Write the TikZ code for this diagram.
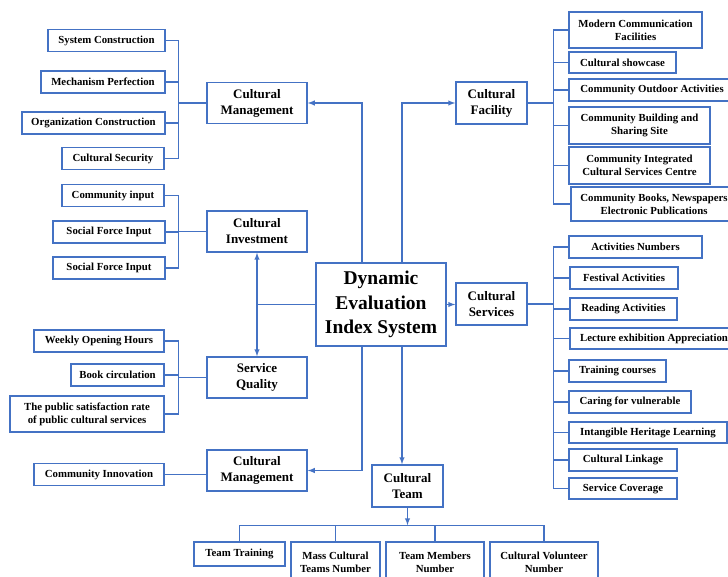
\documentclass[tikz,border=0pt]{standalone}
\usepackage{fontspec}
\setmainfont{Liberation Serif}
\usetikzlibrary{arrows}
\definecolor{boxblue}{RGB}{68,114,196}
\tikzset{
  leafbox/.style={rectangle, draw = boxblue, line width = 1.5pt, align = center, inner sep = 1pt, minimum height = 22pt, font = \fontsize{10.8}{13}\selectfont\bfseries},
  groupbox/.style={leafbox, minimum width = 100pt, minimum height = 41pt, font = \fontsize{13}{16}\selectfont\bfseries},
  wire/.style={draw = boxblue, line width = 1.4pt},
}
\begin{document}
\begin{tikzpicture}[x = 1pt, y = -1pt, >=latex]
\useasboundingbox (0,0) rectangle (728,577);
% centre
\draw (381,304.5) node[leafbox, name = main, minimum width = 130pt, minimum height = 83pt, font = \fontsize{19.5}{24.5}\selectfont\bfseries]{Dynamic\\Evaluation\\Index System};
% left side
\draw (257,103) node[groupbox, name = cm1]{Cultural\\Management};
\draw (106.5,40.5) node[leafbox, name = sc, minimum width = 117pt]{System Construction};
\draw (103,82) node[leafbox, name = mp, minimum width = 124pt]{Mechanism Perfection};
\draw (93.5,123) node[leafbox, name = oc, minimum width = 143pt]{Organization Construction};
\draw (113,158.5) node[leafbox, name = sec, minimum width = 102pt]{Cultural Security};
\coordinate (b1) at ([xshift=-28pt]cm1.west);
\draw[wire] (b1) -- (cm1.west);
\foreach \n in {sc, mp, oc, sec} \draw[wire] (\n.east) -| (b1);

\draw (257,231.5) node[groupbox, name = inv]{Cultural\\Investment};
\draw (113,195.5) node[leafbox, name = ci, minimum width = 102pt]{Community input};
\draw (109,232) node[leafbox, name = sf1, minimum width = 112pt]{Social Force Input};
\draw (109,268) node[leafbox, name = sf2, minimum width = 112pt]{Social Force Input};
\coordinate (b2) at ([xshift=-28pt]inv.west);
\draw[wire] (b2) -- (inv.west);
\foreach \n in {ci, sf1, sf2} \draw[wire] (\n.east) -| (b2);

\draw (257,377.5) node[groupbox, name = sq]{Service\\Quality};
\draw (99,341) node[leafbox, name = woh, minimum width = 130pt]{Weekly Opening Hours};
\draw (117.5,375) node[leafbox, name = bc, minimum width = 93pt]{Book circulation};
\draw (87,414) node[leafbox, name = ps, minimum width = 154pt, minimum height = 36pt]{The public satisfaction rate\\of public cultural services};
\coordinate (b3) at ([xshift=-28pt]sq.west);
\draw[wire] (b3) -- (sq.west);
\foreach \n in {woh, bc, ps} \draw[wire] (\n.east) -| (b3);

\draw (257,470.5) node[groupbox, name = cm2]{Cultural\\Management};
\draw (99,474.5) node[leafbox, name = cinn, minimum width = 130pt]{Community Innovation};
\draw[wire] (cinn.east) -- (cinn.east -| cm2.west);

% right side
\draw (491.5,103) node[groupbox, name = fac, minimum width = 71pt, minimum height = 42pt]{Cultural\\Facility};
\draw (635.5,30) node[leafbox, name = mcf, minimum width = 133pt, minimum height = 36pt]{Modern Communication\\Facilities};
\draw (622.5,62.5) node[leafbox, name = csh, minimum width = 107pt, minimum height = 21pt]{Cultural showcase};
\draw (652,90) node[leafbox, name = coa, minimum width = 166pt]{Community Outdoor Activities};
\draw (639.5,125.5) node[leafbox, name = cbs, minimum width = 141pt, minimum height = 37pt]{Community Building and\\Sharing Site};
\draw (639.5,165.5) node[leafbox, name = cic, minimum width = 141pt, minimum height = 37pt]{Community Integrated\\Cultural Services Centre};
\draw (654,204) node[leafbox, name = cbn, minimum width = 166pt, minimum height = 34pt]{Community Books, Newspapers\\Electronic Publications};
\coordinate (b4) at ([xshift=26pt]fac.east);
\draw[wire] (fac.east) -- (b4);
\foreach \n in {mcf, csh, coa, cbs, cic, cbn} \draw[wire] (b4) |- (\n.west);

\draw (491.5,304) node[groupbox, name = srv, minimum width = 71pt, minimum height = 42pt]{Cultural\\Services};
\draw (635.5,247) node[leafbox, name = an, minimum width = 133pt]{Activities Numbers};
\draw (624,278) node[leafbox, name = fa, minimum width = 108pt]{Festival Activities};
\draw (623.5,309) node[leafbox, name = ra, minimum width = 107pt]{Reading Activities};
\draw (654,338.5) node[leafbox, name = lea, minimum width = 168pt, minimum height = 21pt]{Lecture exhibition Appreciation};
\draw (617.5,371) node[leafbox, name = tc, minimum width = 97pt]{Training courses};
\draw (630,402) node[leafbox, name = cv, minimum width = 122pt]{Caring for vulnerable};
\draw (648,432.5) node[leafbox, name = ihl, minimum width = 158pt, minimum height = 21pt]{Intangible Heritage Learning};
\draw (623,460) node[leafbox, name = cl, minimum width = 108pt]{Cultural Linkage};
\draw (623,488.5) node[leafbox, name = svc, minimum width = 108pt, minimum height = 21pt]{Service Coverage};
\coordinate (b5) at ([xshift=26pt]srv.east);
\draw[wire] (srv.east) -- (b5);
\foreach \n in {an, fa, ra, lea, tc, cv, ihl, cl, svc} \draw[wire] (b5) |- (\n.west);

% bottom
\draw (407.5,486) node[groupbox, name = team, minimum width = 71pt, minimum height = 42pt]{Cultural\\Team};
\draw (239.5,554) node[leafbox, name = tt, minimum width = 91pt, minimum height = 24pt]{Team Training};
\draw (335.5,562) node[leafbox, name = mct, minimum width = 89pt, minimum height = 40pt]{Mass Cultural\\Teams Number};
\draw (435,562) node[leafbox, name = tmn, minimum width = 98pt, minimum height = 40pt]{Team Members\\Number};
\draw (544,562) node[leafbox, name = cvn, minimum width = 108pt, minimum height = 40pt]{Cultural Volunteer\\Number};
\coordinate (tb) at ([yshift=16pt]tt.north);
\draw[wire, ->] (team.south) -- (team.south |- tb);
\draw[wire] (tt.north) |- (cvn.north |- tb) -- (cvn.north);
\foreach \n in {mct, tmn} \draw[wire] (\n.north) -- (\n.north |- tb);

% from the centre
\draw[wire, ->] ([xshift=-19pt]main.north) |- (cm1.east);
\draw[wire, ->] ([xshift=21pt]main.north) |- (fac.west);
\draw[wire, ->] (main.east) -- (main.east -| srv.west);
\draw[wire, ->] ([xshift=-19pt]main.south) |- (cm2.east);
\draw[wire, ->] ([xshift=21pt]main.south) -- ([xshift=21pt]main.south |- team.north);
\draw[wire, ->] (main.west) -| (inv.south);
\draw[wire, ->] (main.west) -| (sq.north);
\end{tikzpicture}
\end{document}
